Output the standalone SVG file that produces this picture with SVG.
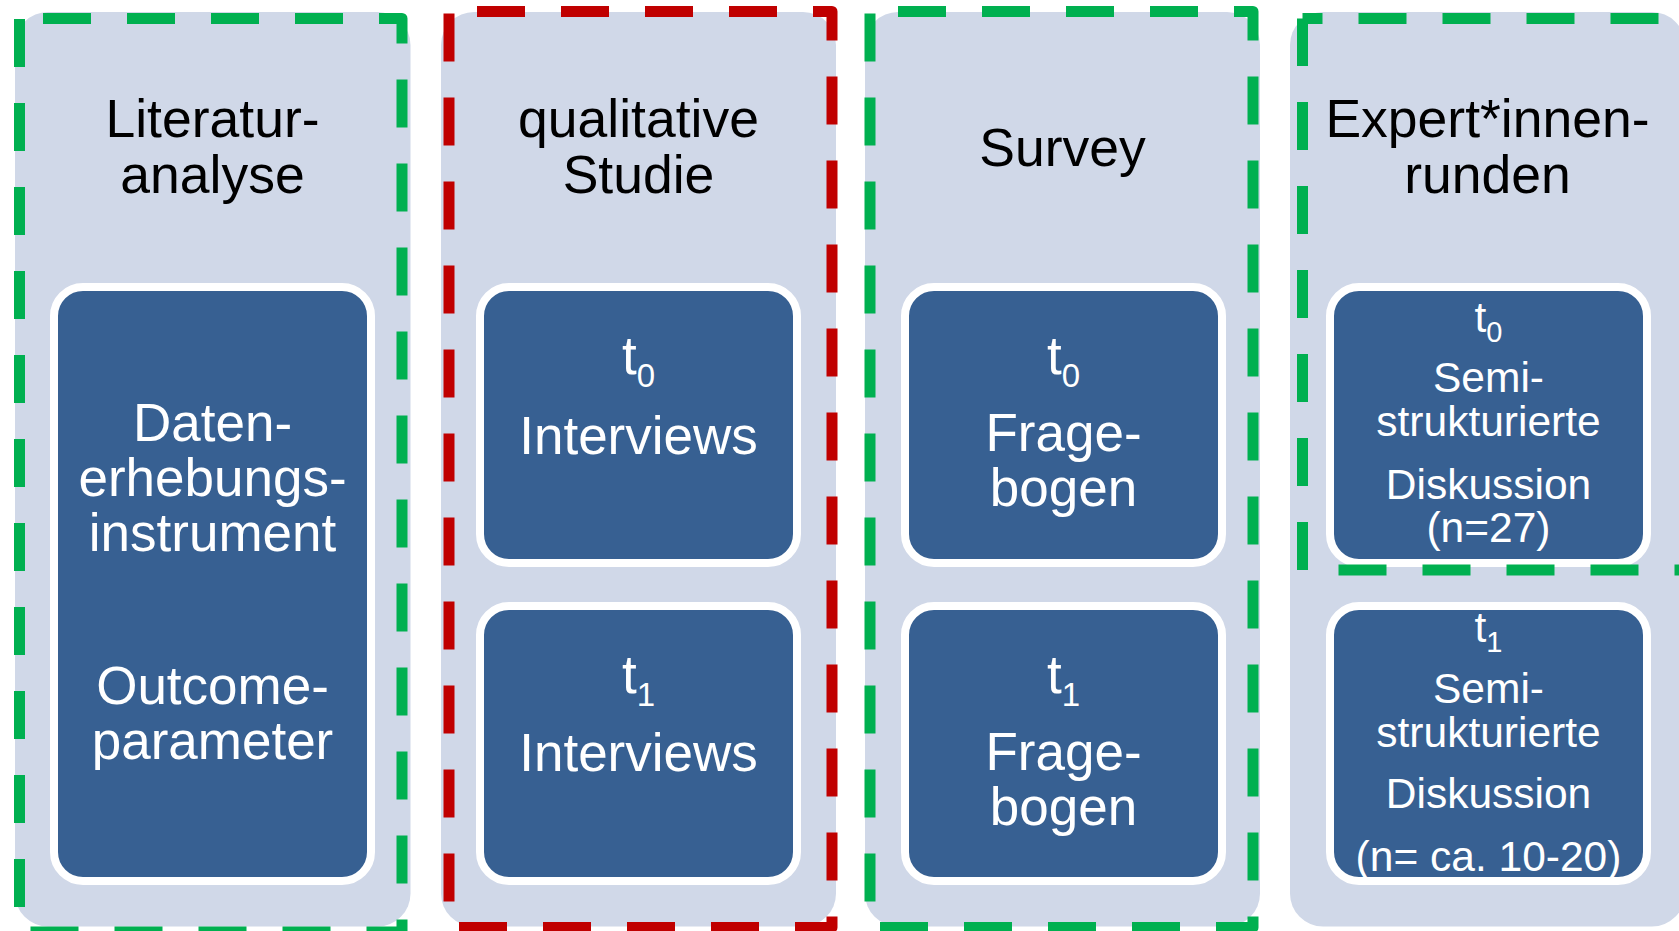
<svg xmlns="http://www.w3.org/2000/svg" width="1679" height="931" viewBox="0 0 1679 931">
  <style>
    .col { fill: #D0D8E8; }
    .box { fill: #376092; stroke: #FFFFFF; stroke-width: 8; }
    .dash { fill: none; stroke-width: 11; stroke-dasharray: 48 36; stroke-linejoin: round; }
    .green { stroke: #00B050; }
    .red { stroke: #C00000; }
    .head { font-family: "Liberation Sans", Arial, sans-serif; font-size: 53.5px; fill: #000000; text-anchor: middle; }
    .lbl { font-family: "Liberation Sans", Arial, sans-serif; font-size: 53px; fill: #FFFFFF; text-anchor: middle; }
    .lbl-s { font-family: "Liberation Sans", Arial, sans-serif; font-size: 42.5px; fill: #FFFFFF; text-anchor: middle; }
  </style>
  <rect width="1679" height="931" fill="#FFFFFF"/>

  <!-- Column 1: Literaturanalyse -->
  <g id="literaturanalyse">
    <rect class="col" x="15" y="12" width="395.5" height="914.5" rx="33"/>
    <text class="head"><tspan x="212.5" y="137">Literatur-</tspan><tspan x="212.5" y="192.5">analyse</tspan></text>
    <g id="datenerhebung">
      <rect class="box" x="54" y="287" width="317" height="594" rx="29"/>
      <text class="lbl" font-size="54"><tspan x="212.5" y="441">Daten-</tspan><tspan x="212.5" y="496">erhebungs-</tspan><tspan x="212.5" y="551">instrument</tspan></text>
      <text class="lbl" font-size="54"><tspan x="212.5" y="704">Outcome-</tspan><tspan x="212.5" y="759">parameter</tspan></text>
    </g>
    <path class="dash green" d="M19.5 18.5 H402 V932 H19.5 Z" stroke-dashoffset="60.5"/>
  </g>

  <!-- Column 2: qualitative Studie -->
  <g id="qualitative-studie">
    <rect class="col" x="441" y="12" width="395" height="914.5" rx="33"/>
    <text class="head"><tspan x="638.5" y="137">qualitative</tspan><tspan x="638.5" y="192.5">Studie</tspan></text>
    <g id="interviews-t0">
      <rect class="box" x="480" y="287" width="317" height="276" rx="29"/>
      <text class="lbl" x="638.5" y="374">t<tspan font-size="33" dy="13">0</tspan></text>
      <text class="lbl" x="638.5" y="454">Interviews</text>
    </g>
    <g id="interviews-t1">
      <rect class="box" x="480" y="606" width="317" height="275" rx="29"/>
      <text class="lbl" x="638.5" y="693">t<tspan font-size="33" dy="13">1</tspan></text>
      <text class="lbl" x="638.5" y="771">Interviews</text>
    </g>
    <path class="dash red" d="M449 11.5 H832 V927.5 H449 Z" stroke-dashoffset="56"/>
  </g>

  <!-- Column 3: Survey -->
  <g id="survey">
    <rect class="col" x="865" y="12" width="395" height="914.5" rx="33"/>
    <text class="head" x="1062.5" y="166">Survey</text>
    <g id="fragebogen-t0">
      <rect class="box" x="905" y="287" width="317" height="276" rx="29"/>
      <text class="lbl" x="1063.5" y="374">t<tspan font-size="33" dy="13">0</tspan></text>
      <text class="lbl"><tspan x="1063.5" y="451">Frage-</tspan><tspan x="1063.5" y="506">bogen</tspan></text>
    </g>
    <g id="fragebogen-t1">
      <rect class="box" x="905" y="606" width="317" height="275" rx="29"/>
      <text class="lbl" x="1063.5" y="693">t<tspan font-size="33" dy="13">1</tspan></text>
      <text class="lbl"><tspan x="1063.5" y="770">Frage-</tspan><tspan x="1063.5" y="825">bogen</tspan></text>
    </g>
    <path class="dash green" d="M870 11.5 H1253 V927.5 H870 Z" stroke-dashoffset="56"/>
  </g>

  <!-- Column 4: Expert*innenrunden -->
  <g id="expertinnenrunden">
    <rect class="col" x="1290" y="12" width="395" height="914.5" rx="33"/>
    <text class="head"><tspan x="1487.5" y="137">Expert*innen-</tspan><tspan x="1487.5" y="192.5">runden</tspan></text>
    <g id="diskussion-t0">
      <rect class="box" x="1330" y="287" width="317" height="276" rx="29"/>
      <text class="lbl-s" x="1488.5" y="331.5">t<tspan font-size="29" dy="10">0</tspan></text>
      <text class="lbl-s"><tspan x="1488.5" y="391.5">Semi-</tspan><tspan x="1488.5" y="435.5">strukturierte</tspan><tspan x="1488.5" y="499">Diskussion</tspan><tspan x="1488.5" y="541.5">(n=27)</tspan></text>
    </g>
    <g id="diskussion-t1">
      <rect class="box" x="1330" y="606" width="317" height="275" rx="29"/>
      <text class="lbl-s" x="1488.5" y="641.5">t<tspan font-size="29" dy="10">1</tspan></text>
      <text class="lbl-s"><tspan x="1488.5" y="702.5">Semi-</tspan><tspan x="1488.5" y="746.5">strukturierte</tspan><tspan x="1488.5" y="808">Diskussion</tspan><tspan x="1488.5" y="870.5">(n= ca. 10-20)</tspan></text>
    </g>
    <path class="dash green" d="M1302.5 570 V18.5"/>
    <path class="dash green" d="M1302.5 18.5 H1700" stroke-dashoffset="28"/>
    <path class="dash green" d="M1302.5 570 H1700" stroke-dashoffset="48"/>
  </g>

  <g id="connectors"/>
</svg>
